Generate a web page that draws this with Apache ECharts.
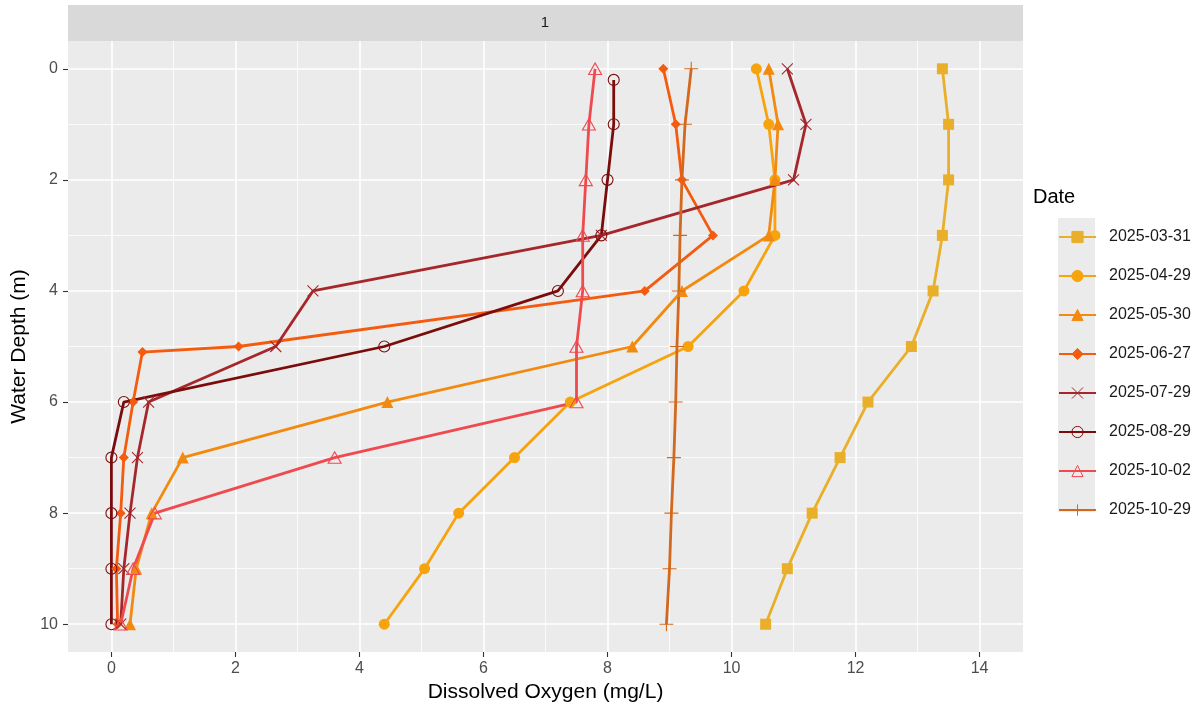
<!DOCTYPE html>
<html>
<head>
<meta charset="utf-8">
<script src="https://cdn.jsdelivr.net/npm/echarts@6/dist/echarts.min.js"></script>
<style>
  html, body { margin: 0; padding: 0; background: #ffffff; }
  #chart { width: 1204px; height: 715px; }
</style>
</head>
<body>
<div id="chart"></div>
<script>
// Dissolved oxygen profiles by sampling date (x = DO in mg/L, y = depth in m)
const dates = ['2025-03-31', '2025-04-29', '2025-05-30', '2025-06-27',
               '2025-07-29', '2025-08-29', '2025-10-02', '2025-10-29'];

const depthStd = [0, 1, 2, 3, 4, 5, 6, 7, 8, 9, 10];
const depthJun = [0, 1, 2, 3, 4, 5.0, 5.1, 6, 7, 8, 9, 10];
const depthAug = [0.2, 1, 2, 3, 4, 5, 6, 7, 8, 9, 10];

const doMar31 = [13.4, 13.5, 13.5, 13.4, 13.25, 12.9, 12.2, 11.75, 11.3, 10.9, 10.55];
const doApr29 = [10.4, 10.6, 10.7, 10.7, 10.2, 9.3, 7.4, 6.5, 5.6, 5.05, 4.4];
const doMay30 = [10.6, 10.75, 10.7, 10.6, 9.2, 8.4, 4.45, 1.15, 0.65, 0.4, 0.3];
const doJun27 = [8.9, 9.1, 9.2, 9.7, 8.6, 2.05, 0.5, 0.35, 0.2, 0.15, 0.08, 0.1];
const doJul29 = [10.9, 11.2, 11.0, 7.9, 3.25, 2.65, 0.6, 0.42, 0.3, 0.2, 0.15];
const doAug29 = [8.1, 8.1, 8.0, 7.9, 7.2, 4.4, 0.2, 0.0, 0.0, 0.0, 0.0];
const doOct02 = [7.8, 7.7, 7.65, 7.6, 7.6, 7.5, 7.5, 3.6, 0.7, 0.35, 0.15];
const doOct29 = [9.35, 9.25, 9.2, 9.17, 9.15, 9.12, 9.1, 9.07, 9.03, 9.0, 8.95];

const xTicks = [0, 2, 4, 6, 8, 10, 12, 14];
const xMinor = [1, 3, 5, 7, 9, 11, 13];
const yTicks = [0, 2, 4, 6, 8, 10];
const yMinor = [1, 3, 5, 7, 9];

const colors = ['#E9AF2A', '#F6A30E', '#F38A10', '#F45B0E',
                '#A5272B', '#7B0C0C', '#EE4A50', '#D2691E'];

const crossPath = 'path://M0,0L10,10M10,0L0,10';
const plusPath = 'path://M5,0L5,10M0,5L10,5';
const ringPath = 'path://M10,0A10,10,0,1,1,9.99,0Z';
const openTriPath = 'path://M5,0L10,8.66L0,8.66Z';

const profiles = [
  { x: doMar31, y: depthStd, symbol: 'rect', size: 11, hollow: false },
  { x: doApr29, y: depthStd, symbol: 'circle', size: 11, hollow: false },
  { x: doMay30, y: depthStd, symbol: 'triangle', size: 12, hollow: false },
  { x: doJun27, y: depthJun, symbol: 'diamond', size: 10, hollow: false },
  { x: doJul29, y: depthStd, symbol: crossPath, size: 11, hollow: true },
  { x: doAug29, y: depthAug, symbol: ringPath, size: 11, hollow: true },
  { x: doOct02, y: depthStd, symbol: openTriPath, size: [13, 11.5], hollow: true },
  { x: doOct29, y: depthStd, symbol: plusPath, size: 14, hollow: true }
];

const series = profiles.map((p, i) => ({
  name: dates[i],
  type: 'line',
  data: p.x.map((v, k) => [v, p.y[k]]),
  symbol: p.symbol,
  symbolSize: p.size,
  showAllSymbol: true,
  animation: false,
  lineStyle: { color: colors[i], width: 2.8 },
  itemStyle: p.hollow
    ? { color: 'rgba(0,0,0,0)', borderColor: colors[i], borderWidth: 1.1 }
    : { color: colors[i], borderColor: colors[i], borderWidth: 0 },
  emphasis: { disabled: true },
  z: 3
}));

// hidden axes that only carry the thinner minor grid lines
const minorX = {
  type: 'value', min: -0.7, max: 14.7, gridIndex: 0, position: 'top',
  axisLine: { show: false, onZero: false }, axisLabel: { show: false },
  axisTick: { show: false, customValues: xMinor },
  splitLine: { show: true, lineStyle: { color: '#ffffff', width: 0.8 } }
};
const minorY = {
  type: 'value', min: -0.5, max: 10.5, inverse: true, gridIndex: 0, position: 'right',
  axisLine: { show: false, onZero: false }, axisLabel: { show: false },
  axisTick: { show: false, customValues: yMinor },
  splitLine: { show: true, lineStyle: { color: '#ffffff', width: 0.8 } }
};

const option = {
  backgroundColor: '#ffffff',
  animation: false,
  textStyle: { fontFamily: 'Liberation Sans, Arial, sans-serif' },
  grid: {
    left: 68, right: 181, top: 41, bottom: 63,
    show: true, backgroundColor: '#EBEBEB', borderWidth: 0
  },
  graphic: [
    { type: 'rect', shape: { x: 68, y: 5, width: 955, height: 36 },
      style: { fill: '#D9D9D9' }, silent: true },
    { type: 'text', x: 545, y: 23,
      style: { text: '1', fill: '#1A1A1A', font: '15px Liberation Sans, Arial, sans-serif',
               align: 'center', verticalAlign: 'middle' }, silent: true },
    { type: 'rect', shape: { x: 1058, y: 218, width: 37, height: 294 },
      style: { fill: '#EBEBEB' }, silent: true, z: -1 },
    { type: 'text', x: 1033, y: 197,
      style: { text: 'Date', fill: '#000000', font: '20px Liberation Sans, Arial, sans-serif',
               align: 'left', verticalAlign: 'middle' }, silent: true }
  ],
  legend: {
    orient: 'vertical',
    left: 1058, top: 229,
    itemWidth: 37, itemHeight: 14, itemGap: 23,
    padding: 0,
    selectedMode: false,
    itemStyle: { borderWidth: 1 },
    textStyle: { fontSize: 16, color: '#1A1A1A', lineHeight: 14, padding: [0, 0, 0, 8],
                 fontFamily: 'Liberation Sans, Arial, sans-serif' },
    data: dates
  },
  xAxis: [{
    type: 'value', min: -0.7, max: 14.7, gridIndex: 0, position: 'bottom',
    name: 'Dissolved Oxygen (mg/L)', nameLocation: 'middle', nameGap: 30,
    nameTextStyle: { fontSize: 21, color: '#000000' },
    axisLine: { show: false, onZero: false },
    axisTick: { show: true, length: 5, customValues: xTicks,
                lineStyle: { color: '#333333', width: 1.1 } },
    axisLabel: { customValues: xTicks, fontSize: 16, color: '#4D4D4D', margin: 9 },
    splitLine: { show: true, lineStyle: { color: '#ffffff', width: 1.6 } }
  }, minorX],
  yAxis: [{
    type: 'value', min: -0.5, max: 10.5, inverse: true, gridIndex: 0, position: 'left',
    name: 'Water Depth (m)', nameLocation: 'middle', nameGap: 32, nameRotate: 90,
    nameTextStyle: { fontSize: 21, color: '#000000' },
    axisLine: { show: false, onZero: false },
    axisTick: { show: true, length: 5, customValues: yTicks,
                lineStyle: { color: '#333333', width: 1.1 } },
    axisLabel: { customValues: yTicks, fontSize: 16, color: '#4D4D4D', margin: 10 },
    splitLine: { show: true, lineStyle: { color: '#ffffff', width: 1.6 } }
  }, minorY],
  series: series
};

const chart = echarts.init(document.getElementById('chart'), null, { renderer: 'canvas' });
chart.setOption(option);
</script>
</body>
</html>
